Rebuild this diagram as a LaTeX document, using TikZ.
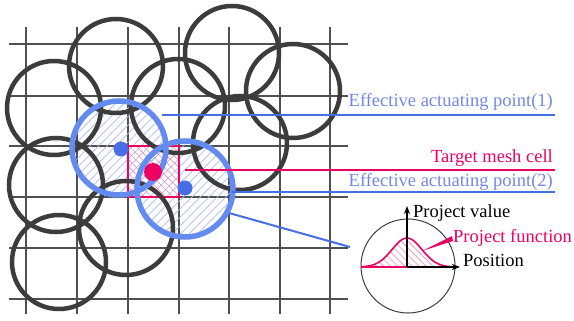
\documentclass[tikz,border=0pt]{standalone}
\usepackage{fontspec}
\setmainfont{Liberation Serif}
\usetikzlibrary{patterns.meta,arrows.meta}
\definecolor{gridgray}{RGB}{80,80,80}
\definecolor{circgray}{RGB}{60,60,60}
\definecolor{ringblue}{RGB}{100,140,240}
\definecolor{lineblue}{RGB}{70,110,230}
\definecolor{textblue}{RGB}{115,135,230}
\definecolor{hotred}{RGB}{235,0,100}
\definecolor{hatchblue}{RGB}{170,185,245}
\definecolor{hatchred}{RGB}{245,140,170}
\tikzset{
  gridline/.style={draw=gridgray,line width=1.5pt},
  ring/.style={draw=circgray,line width=4.5pt},
  bluering/.style={draw=ringblue,line width=5.5pt},
  bluehatch/.style={pattern={Lines[angle=45,distance=6pt,line width=0.7pt]},pattern color=hatchblue},
  redhatch/.style={pattern={Lines[angle=-45,distance=5pt,line width=0.6pt]},pattern color=hatchred},
  lbl/.style={font=\fontsize{18.5}{20}\selectfont,inner sep=0pt},
  bluelead/.style={draw=lineblue,line width=2.5pt},
  redlead/.style={draw=hotred,line width=2.5pt},
}
\begin{document}
\begin{tikzpicture}[x=1pt,y=-1pt]
\useasboundingbox (0,0) rectangle (574,321);
% grid
\foreach \gx in {26,77,128,179,229,280,330}{\draw[gridline] (\gx,27) -- (\gx,314);}
\foreach \gy in {44,96,146,197,248,299}{\draw[gridline] (9,\gy) -- (348,\gy);}
% hatched fills
\fill[bluehatch] (119,148) circle[radius=47];
\fill[bluehatch] (185,189) circle[radius=48];
\fill[redhatch] (128,146) rectangle (179,197);
\node[draw=hotred,line width=1.6pt,minimum width=51pt,minimum height=51pt,inner sep=0pt] (cell) at (153.5,171.5) {};
% gray circles
\draw[ring] (116,66) circle[radius=47];
\draw[ring] (54,108) circle[radius=47];
\draw[ring] (178,106) circle[radius=47];
\draw[ring] (232,53) circle[radius=47];
\draw[ring] (293,91) circle[radius=47];
\draw[ring] (240,143) circle[radius=47];
\draw[ring] (56,185) circle[radius=47];
\draw[ring] (126,228) circle[radius=47];
\draw[ring] (59,262) circle[radius=47];
% blue circles
\node[bluering,circle,minimum size=94pt,inner sep=0pt] (ca) at (119,148) {};
\node[bluering,circle,minimum size=96pt,inner sep=0pt] (cb) at (185,189) {};
% dots
\node[circle,fill=lineblue,minimum size=15pt,inner sep=0pt] (pa) at (121,149) {};
\node[circle,fill=lineblue,minimum size=15pt,inner sep=0pt] (pb) at (185,188) {};
\node[circle,fill=hotred,minimum size=18pt,inner sep=0pt] (pr) at (153,172) {};
% labels
\node[lbl,text=textblue,anchor=base east] (l1) at (553,107) {Effective actuating point(1)};
\node[lbl,text=hotred,anchor=base east] (l2) at (553,163) {Target mesh cell};
\node[lbl,text=textblue,anchor=base east] (l3) at (553,186) {Effective actuating point(2)};
% leader lines
\coordinate (s1) at (162,115); \coordinate (e1) at (555,115);
\coordinate (s2) at (185,170); \coordinate (e2) at (555,170);
\coordinate (s3) at (232,192); \coordinate (e3) at (555,192);
\coordinate (s4) at (229,213); \coordinate (e4) at (350,247);
\draw[bluelead] (s1) -- (e1);
\draw[redlead] (s2) -- (e2);
\draw[bluelead] (s3) -- (e3);
\draw[draw=lineblue,line width=2pt] (s4) -- (e4);
% inset
\node[circle,draw=circgray,line width=1pt,minimum size=94pt,inner sep=0pt] (inset) at (408,266) {};
\fill[redhatch] plot[domain=361:454,samples=60] (\x,{267-29*exp(-((\x-407)/21)^2)}) -- cycle;
\draw[hotred,line width=1.6pt] plot[domain=361:454,samples=60] (\x,{267-29*exp(-((\x-407)/21)^2)});
\draw[hotred,line width=1.6pt] (361,267) -- (454,267);
\coordinate (o) at (407,267);
\coordinate (ytip) at (407,206);
\coordinate (xtip) at (460,267);
\draw[line width=1.8pt,-{Stealth[length=8pt,width=6pt]}] (o) -- (ytip);
\draw[line width=1.8pt,-{Stealth[length=8pt,width=6pt]}] (o) -- (xtip);
\node[lbl,anchor=base west] (pv) at (413,218) {Project value};
\node[lbl,text=hotred,anchor=base west] (pf) at (453,242) {Project function};
\node[lbl,anchor=base west] (pp) at (463,266) {Position};
\coordinate (fa) at (422,251);
\coordinate (fb) at (452,236);
\coordinate (fc) at (453,241);
\fill[hotred] (fa) -- (fb) -- (fc) -- cycle;
\end{tikzpicture}
\end{document}
